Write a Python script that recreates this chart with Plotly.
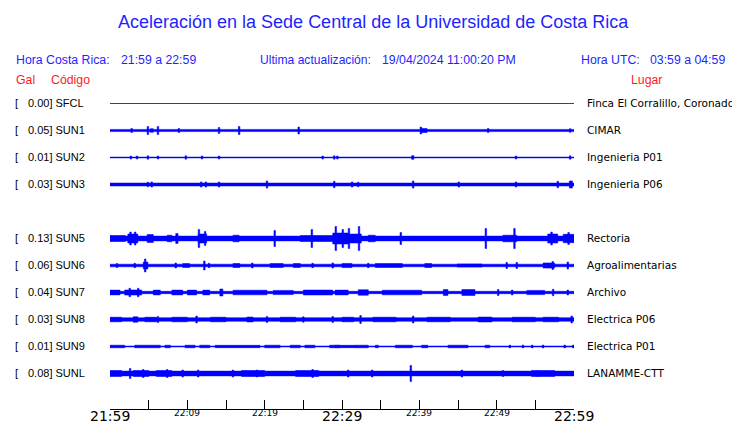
import plotly.graph_objects as go

# ---------------- data ----------------
codes = ["SFCL", "SUN1", "SUN2", "SUN3", "SUN5", "SUN6", "SUN7", "SUN8", "SUN9", "SUNL"]
peaks = ["0.00", "0.05", "0.01", "0.03", "0.13", "0.06", "0.04", "0.03", "0.01", "0.08"]
places = ["Finca El Corralillo, Coronado", "CIMAR", "Ingenieria P01", "Ingenieria P06",
          "Rectoria", "Agroalimentarias", "Archivo", "Electrica P06", "Electrica P01", "LANAMME-CTT"]
row_slot = [0, 1, 2, 3, 5, 6, 7, 8, 9, 10]          # SUN4 slot left empty
trace_colors = ["#e00000"] + ["#0000ff"] * 9

# background (noise) half-amplitude of each trace, display units
base_amp = [0.5, 1.1, 0.45, 1.5, 2.4, 1.3, 1.2, 1.8, 0.5, 2.4]

# envelope events: (start minute, end minute, half-amplitude), minutes after 21:59
events = {
    "SFCL": [],
    "SUN1": [(2.8, 2.8, 2), (4.9, 4.9, 4), (5.2, 5.6, 1.8), (6.2, 6.2, 4), (8.9, 8.9, 2), (14.1, 14.1, 3),
             (16.7, 16.7, 4), (24.4, 24.4, 3.5), (40.2, 40.2, 3.5), (40.3, 41.0, 2.0), (48.9, 48.9, 2),
             (59.5, 59.5, 1.8)],
    "SUN2": [(2.7, 2.7, 1.5), (3.5, 3.5, 1.5), (4.9, 4.9, 1.7), (6.2, 6.2, 1.5), (9.8, 9.8, 1.7),
             (11.9, 11.9, 1.5), (14.1, 14.1, 1.5), (27.5, 27.5, 1.5), (29.0, 29.0, 1.7), (29.4, 29.4, 1.5),
             (39.1, 39.1, 1.7), (39.2, 39.2, 1.7), (52.5, 52.5, 1.5), (59.5, 59.5, 1.7)],
    "SUN3": [(4.9, 4.9, 2.3), (5.4, 5.4, 2.6), (11.8, 11.8, 2.6), (12.4, 12.4, 2.6), (14.1, 14.1, 2.6),
             (20.3, 20.3, 3.6), (29.0, 29.0, 3.2), (31.3, 31.3, 2.6), (32.1, 32.1, 2.2), (39.2, 39.2, 3.6),
             (45.1, 45.1, 2.6), (52.5, 52.5, 2.6), (57.9, 57.9, 3.2), (59.4, 59.8, 3.6)],
    "SUN5": [(0.0, 2.0, 3.0), (2.3, 3.6, 4.5), (2.6, 2.7, 6.5), (3.2, 3.3, 6.5), (4.8, 5.6, 4.0),
             (7.4, 8.0, 3.3), (8.5, 8.8, 5.0), (11.4, 12.5, 4.5), (11.4, 11.6, 9), (12.2, 12.4, 7),
             (15.9, 16.7, 3.3), (21.3, 21.3, 8), (24.6, 28.8, 3.0), (26.1, 26.1, 9),
             (28.8, 30.8, 5.5), (29.1, 29.3, 12), (30.0, 30.2, 9), (30.8, 31.0, 10), (31.0, 32.5, 4.5),
             (32.1, 32.3, 12), (33.4, 34.3, 3.3), (37.5, 37.7, 6), (48.5, 48.7, 10), (50.8, 52.6, 3.3),
             (52.2, 52.4, 10), (56.6, 57.9, 4.5), (57.0, 57.2, 6.5), (58.6, 60.0, 4.2), (59.2, 59.4, 6)],
    "SUN6": [(0.9, 0.9, 2), (3.2, 3.2, 2.2), (4.3, 4.9, 3.5), (4.5, 4.6, 6.5), (8.5, 8.5, 2.5),
             (9.4, 10.3, 2.0), (12.2, 12.2, 4.5), (12.8, 12.8, 2.2), (15.9, 16.8, 2.0), (18.4, 18.4, 2.5),
             (20.7, 22.4, 2.0), (23.7, 24.6, 2.0), (26.2, 26.2, 2.2), (28.8, 28.8, 2.6), (30.0, 31.3, 2.1),
             (33.4, 33.4, 2.2), (34.3, 37.8, 2.0), (40.7, 41.6, 2.0), (44.9, 48.1, 1.6), (51.3, 51.3, 3),
             (52.6, 52.6, 3), (56.0, 57.5, 2.6), (57.2, 57.3, 4), (59.2, 59.2, 3.5)],
    "SUN7": [(0.0, 1.3, 2.4), (1.9, 4.1, 2.6), (2.5, 2.6, 4.2), (3.6, 3.7, 4.2), (5.6, 6.5, 2.4),
             (8.0, 9.4, 2.4), (10.0, 11.2, 2.4), (12.0, 12.9, 2.4), (14.2, 14.6, 3.5), (15.9, 20.3, 2.3),
             (21.1, 23.7, 2.1), (25.0, 28.8, 2.5), (29.1, 30.8, 2.4), (32.1, 33.4, 2.8), (35.2, 40.3, 2.3),
             (43.1, 43.7, 3.0), (45.5, 47.2, 3.0), (50.2, 50.2, 3), (52.0, 52.0, 2.5), (53.9, 56.2, 2.1),
             (57.3, 57.3, 3.2), (59.2, 59.2, 2.5)],
    "SUN8": [(0.0, 1.5, 2.3), (3.0, 3.6, 2.8), (4.5, 6.0, 2.3), (6.2, 6.2, 3), (8.0, 10.0, 2.3),
             (11.2, 11.2, 3.5), (13.0, 15.0, 2.3), (17.7, 18.5, 2.5), (20.3, 20.3, 3), (22.0, 24.0, 2.3),
             (25.0, 25.0, 2.7), (28.8, 28.8, 3), (30.0, 31.5, 2.3), (32.3, 32.5, 4), (34.0, 37.0, 2.3),
             (39.2, 39.2, 3.5), (41.0, 44.0, 2.3), (47.6, 49.4, 2.5), (52.0, 55.0, 2.3), (56.0, 58.0, 2.3),
             (59.7, 59.7, 3.5)],
    "SUN9": [(0.0, 1.9, 1.3), (3.2, 6.5, 1.3), (7.1, 7.8, 1.3), (9.7, 11.0, 1.3), (11.6, 12.9, 1.3),
             (13.6, 19.4, 1.2), (20.0, 22.0, 1.3), (23.3, 24.6, 1.3), (25.2, 26.5, 1.3), (28.4, 29.7, 1.3),
             (29.1, 31.7, 1.2), (31.7, 33.4, 1.3), (34.3, 34.7, 1.3), (36.9, 39.1, 1.3), (40.3, 41.1, 1.3),
             (43.7, 46.3, 1.3), (48.5, 49.1, 1.3), (51.7, 51.7, 1.4), (53.4, 53.4, 1.4), (54.6, 54.6, 1.4),
             (56.0, 56.0, 1.4), (58.8, 58.8, 1.4), (59.9, 59.9, 1.4)],
    "SUNL": [(0.0, 1.5, 3.0), (2.6, 2.6, 5), (3.0, 5.0, 3.0), (4.3, 4.3, 4), (6.0, 8.0, 3.0), (7.4, 7.4, 4),
             (9.4, 9.4, 3.5), (11.4, 11.4, 3.5), (15.9, 15.9, 3.5), (17.0, 20.0, 3.0), (19.0, 19.0, 3.5),
             (24.0, 27.0, 3.0), (26.2, 26.2, 4), (30.8, 30.8, 3.5), (33.9, 33.9, 3.5), (38.9, 38.9, 8),
             (45.5, 45.5, 3.5), (50.8, 50.8, 3), (54.5, 57.5, 3.0), (55.3, 55.3, 3)],
}

tick_minutes = list(range(0, 61, 5))
label_minutes = [0, 10, 20, 30, 40, 50, 60]
label_texts = ["21:59", "22:09", "22:19", "22:29", "22:39", "22:49", "22:59"]
label_big = [True, False, False, True, False, False, True]

# ---------------- layout geometry ----------------
PAGE_OFF = 8               # default body margin of the html page
W, H = 740 - PAGE_OFF, 423 - PAGE_OFF
X0, X1 = 110, 574          # plot area in page px
Y0, Y1 = 90, 409
ROW0, ROWSTEP = 103.5, 27
BLUE = "#1f1fff"
RED = "#ff1a1a"


def px(xp):
    return (xp - X0) / (X1 - X0)


def row_y(slot):
    return ROW0 + ROWSTEP * slot


fig = go.Figure()

for i, code in enumerate(codes):
    yc = row_y(row_slot[i])
    b = base_amp[i]
    xs, ys = [], []
    if code == "SFCL":
        fig.add_trace(go.Scatter(x=[0, 60], y=[yc, yc], mode="lines",
                                 line=dict(color=trace_colors[i], width=1), hoverinfo="skip"))
        continue
    segs = [(0.0, 60.0, b)] + events[code]
    for t0, t1, a in segs:
        if t1 - t0 < 0.2:
            m = (t0 + t1) / 2
            t0, t1 = m - 0.1, m + 0.1
        t0 = max(t0, 0.0)
        t1 = min(t1, 60.0)
        xs += [t0, t1, t1, t0, t0, None]
        ys += [yc - a, yc - a, yc + a, yc + a, yc - a, None]
    fig.add_trace(go.Scatter(x=xs, y=ys, mode="lines", fill="toself",
                             fillcolor=trace_colors[i],
                             line=dict(color=trace_colors[i], width=0.5), hoverinfo="skip"))

ann = []


def add(text, xpx, ypx, size, color, font="Liberation Sans", anchor="left"):
    ann.append(dict(text=text, x=px(xpx), y=(Y1 - ypx) / (Y1 - Y0), xref="paper", yref="paper",
                    xanchor=anchor, yanchor="middle", showarrow=False,
                    font=dict(family=font, size=size, color=color)))


add("Aceleración en la Sede Central de la Universidad de Costa Rica", 373, 22, 18, BLUE, anchor="center")
add("Hora Costa Rica:", 14, 60, 12.3, BLUE)
add("21:59 a 22:59", 119, 60, 12.3, BLUE)
add("Ultima actualización:", 258, 60, 12.1, BLUE)
add("19/04/2024 11:00:20 PM", 380, 60, 12.3, BLUE)
add("Hora UTC:", 579, 60, 12.3, BLUE)
add("03:59 a 04:59", 648, 60, 12.3, BLUE)
add("Gal", 14, 80, 12.3, RED)
add("Código", 49, 80, 12.3, RED)
add("Lugar", 629, 80, 12.3, RED)

for i, code in enumerate(codes):
    yc = row_y(row_slot[i]) - 0.5
    add("[", 13, yc, 11, "black")
    add(f"{peaks[i]}] {code}", 26, yc, 11, "black")
    add(places[i], 585, yc, 10.5, "black", font="DejaVu Sans")

for m, t, big in zip(label_minutes, label_texts, label_big):
    xp = X0 + m / 60 * (X1 - X0)
    add(t, xp, 416 if big else 413, 14 if big else 9, "black", font="DejaVu Sans", anchor="center")

fig.update_layout(
    width=W, height=H,
    margin=dict(l=X0 - PAGE_OFF, r=W - (X1 - PAGE_OFF), t=Y0 - PAGE_OFF, b=H - (Y1 - PAGE_OFF),
                pad=0, autoexpand=False),
    paper_bgcolor="white", plot_bgcolor="white",
    showlegend=False,
    annotations=ann,
    xaxis=dict(range=[0, 60], tickmode="array", tickvals=tick_minutes, ticks="inside",
               ticklen=9, tickcolor="black", tickwidth=1, showticklabels=False,
               showline=True, linecolor="black", linewidth=1, showgrid=False, zeroline=False,
               fixedrange=True),
    yaxis=dict(range=[Y1, Y0], visible=False, showgrid=False, zeroline=False, fixedrange=True),
)

fig.write_html("out.html")
